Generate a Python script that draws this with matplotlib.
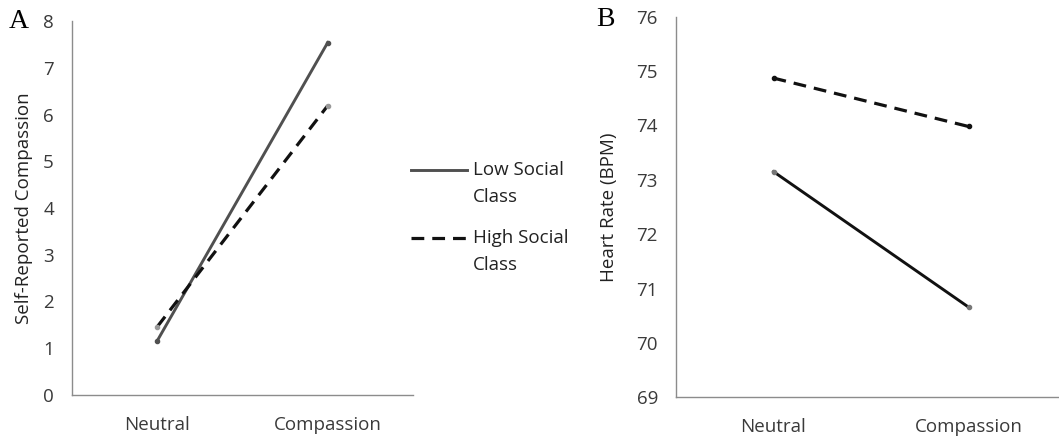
import matplotlib
matplotlib.use("Agg")
import matplotlib.pyplot as plt
from matplotlib.lines import Line2D

plt.rcParams['font.family'] = ['Open Sans', 'DejaVu Sans']

conditions = ["Neutral", "Compassion"]
series_names = ["Low Social Class", "High Social Class"]
legend_first = ["Low Social", "High Social"]
legend_second = ["Class", "Class"]

# Panel A: self-reported compassion
a_low = [1.16, 7.54]
a_high = [1.46, 6.19]
a_yticks = [0, 1, 2, 3, 4, 5, 6, 7, 8]

# Panel B: heart rate (BPM)
b_low = [73.15, 70.66]
b_high = [74.87, 73.98]
b_yticks = [69, 70, 71, 72, 73, 74, 75, 76]

W, H = 1059, 438
fig = plt.figure(figsize=(W/100, H/100), dpi=100)

ax1 = fig.add_axes([72/W, 1-395/H, (413-72)/W, (395-21)/H])
ax2 = fig.add_axes([676/W, 1-397.4/H, (1066-676)/W, (397.4-16.6)/H])

x = range(len(conditions))
tick_color = "#3a3a3a"
FS = 13.5
dash = (0, (4, 2.5))

def style(ax, yticks, ylabel, label_x, xpad):
    ax.set_xlim(-0.5, 1.5)
    ax.set_ylim(yticks[0], yticks[-1])
    ax.set_yticks(yticks)
    ax.set_xticks(list(x))
    ax.set_xticklabels(conditions)
    for s in ["top", "right"]:
        ax.spines[s].set_visible(False)
    for s in ["left", "bottom"]:
        ax.spines[s].set_color("#8c8c8c")
        ax.spines[s].set_linewidth(1.0)
    ax.tick_params(length=0, labelsize=FS, colors=tick_color)
    ax.tick_params(axis='x', pad=xpad)
    ax.tick_params(axis='y', pad=13)
    ax.set_ylabel(ylabel, fontsize=FS, color="#222222")
    ax.yaxis.set_label_coords(label_x, 0.5)

ax1.plot(x, a_low, color="#505050", lw=2.1, marker='o', ms=3)
ax1.plot(x, a_high, color="#111111", lw=2.3, ls=dash, marker='o', ms=3,
         mfc="#999999", mec="#999999")
style(ax1, a_yticks, "Self-Reported Compassion", (33-72)/341, 15)

ax2.plot(x, b_low, color="#111111", lw=2.1, marker='o', ms=3, mfc="#777777", mec="#777777")
ax2.plot(x, b_high, color="#111111", lw=2.3, ls=dash, marker='o', ms=3)
style(ax2, b_yticks, "Heart Rate (BPM)", (618-676)/390, 14.5)

# Legend (manual so that the sample line sits on the first text line)
leg_rows = [170, 238]
leg_styles = [dict(color="#505050", lw=2.1, ls="-"), dict(color="#111111", lw=2.3, ls=dash)]
for yy, st, t1, t2 in zip(leg_rows, leg_styles, legend_first, legend_second):
    fig.add_artist(Line2D([411/W, 467/W], [1-yy/H, 1-yy/H], transform=fig.transFigure, **st))
    fig.text(473/W, 1-yy/H, t1, fontsize=FS, color="#222222", va="center", ha="left")
    fig.text(473/W, 1-(yy+27)/H, t2, fontsize=FS, color="#222222", va="center", ha="left")

fig.text(9/W, 1-21/H, "A", family="Liberation Serif", fontsize=20, va="center", ha="left")
fig.text(596/W, 1-19/H, "B", family="Liberation Serif", fontsize=20, va="center", ha="left")

fig.savefig("out.png", dpi=100)
